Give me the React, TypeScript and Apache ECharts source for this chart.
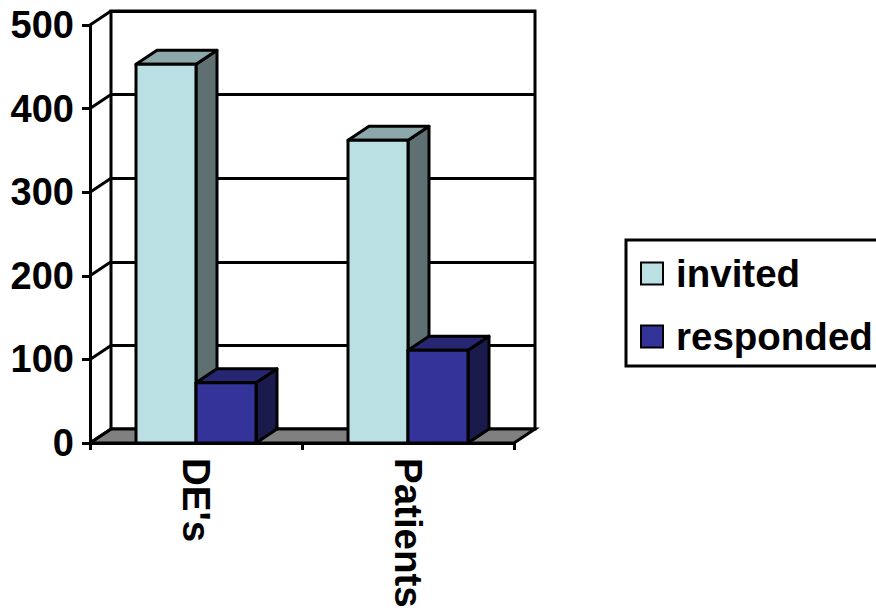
import React, { useEffect, useRef } from "react";
import * as echarts from "echarts";

const categories = ["DE's", "Patients"];
const invited = [453, 362];
const responded = [72, 111];
const yTicks = [0, 100, 200, 300, 400, 500];

const DX = 21;
const DY = -14;
const BAR_W = 60;
const LINE = 3;
const FONT = "Liberation Sans, Arial, sans-serif";
const GRID_W = 424;

function shade3D(front: string, top: string, side: string, dir: number) {
  return (_p: any, api: any) => {
    const cat = api.value(0);
    const [cx, y] = api.coord([cat, api.value(1)]);
    const [, y0] = api.coord([cat, 0]);
    const x0 = dir < 0 ? cx - BAR_W : cx;
    const x1 = x0 + BAR_W;
    const style = (fill: string) => ({ fill, stroke: "#000", lineWidth: LINE, lineJoin: "round" });
    return {
      type: "group",
      children: [
        {
          type: "polygon",
          shape: { points: [[x1, y], [x1 + DX, y + DY], [x1 + DX, y0 + DY], [x1, y0]] },
          style: style(side),
        },
        {
          type: "polygon",
          shape: { points: [[x0, y], [x0 + DX, y + DY], [x1 + DX, y + DY], [x1, y]] },
          style: style(top),
        },
        { type: "rect", shape: { x: x0, y, width: BAR_W, height: y0 - y }, style: style(front) },
      ],
    };
  };
}

export default function App() {
  const ref = useRef<HTMLDivElement>(null);
  useEffect(() => {
    const chart = echarts.init(ref.current!, null, { renderer: "svg" });
    const axisLine = { show: true, lineStyle: { color: "#000", width: LINE } };
    chart.setOption({
      animation: false,
      backgroundColor: "#fff",
      grid: [
        { left: 90, top: 25, width: GRID_W, height: 418, outerBoundsMode: "none" },
        { left: 90 + DX, top: 25 + DY, width: GRID_W, height: 418, outerBoundsMode: "none", show: true, borderColor: "#000", borderWidth: LINE, backgroundColor: "transparent" },
      ],
      xAxis: [
        {
          type: "category",
          gridIndex: 0,
          data: categories,
          axisLine,
          axisTick: { show: true, length: 7, lineStyle: { color: "#000", width: LINE } },
          axisLabel: { rotate: -90, margin: 15, padding: [8, 0, 0, 0], color: "#000", fontFamily: FONT, fontWeight: "bold", fontSize: 38.5 },
        },
        { type: "category", gridIndex: 1, data: categories, show: false },
      ],
      yAxis: [
        {
          type: "value",
          gridIndex: 0,
          min: 0,
          max: 500,
          interval: 100,
          axisLine,
          axisTick: { show: true, length: 8, lineStyle: { color: "#000", width: LINE } },
          splitLine: { show: false },
          axisLabel: { margin: 16, color: "#000", fontFamily: FONT, fontWeight: "bold", fontSize: 38 },
        },
        {
          type: "value",
          gridIndex: 1,
          min: 0,
          max: 500,
          interval: 100,
          axisLine: { show: false },
          axisTick: { show: false },
          axisLabel: { show: false },
          splitLine: { show: true, lineStyle: { color: "#000", width: LINE } },
        },
      ],
      legend: {
        left: 626,
        top: 240,
        orient: "vertical",
        data: ["invited", "responded"],
        icon: "rect",
        itemWidth: 22,
        itemHeight: 22,
        itemGap: 24,
        padding: [14, 6, 10, 14],
        borderColor: "#000",
        borderWidth: 3,
        backgroundColor: "#fff",
        formatter: (name: string) => `{t|${name}}`,
        textStyle: {
          color: "#000",
          rich: {
            t: { color: "#000", fontFamily: FONT, fontWeight: "bold", fontSize: 38.5, padding: [0, 0, 0, 8] },
          },
        },
      },
      series: [
        {
          type: "custom",
          name: "floor",
          xAxisIndex: 0,
          yAxisIndex: 0,
          z: 2,
          data: [[0, 0]],
          renderItem: (_p: any, api: any) => {
            const half = api.size([1, 0])[0] / 2;
            const [a, y] = api.coord([0, 0]);
            const [b] = api.coord([categories.length - 1, 0]);
            const l = a - half;
            const r = b + half;
            return {
              type: "polygon",
              shape: { points: [[l, y], [l + DX, y + DY], [r + DX, y + DY], [r, y]] },
              style: { fill: "#808080", stroke: "#000", lineWidth: LINE },
            };
          },
        },
        {
          type: "custom",
          name: "wall",
          xAxisIndex: 0,
          yAxisIndex: 0,
          z: 3,
          data: yTicks.map((t) => [0, t]),
          renderItem: (_p: any, api: any) => {
            const half = api.size([1, 0])[0] / 2;
            const [a, y] = api.coord([0, api.value(1)]);
            const l = a - half;
            return {
              type: "line",
              shape: { x1: l, y1: y, x2: l + DX, y2: y + DY },
              style: { stroke: "#000", lineWidth: LINE },
            };
          },
        },
        {
          type: "custom",
          name: "invited",
          xAxisIndex: 0,
          yAxisIndex: 0,
          z: 4,
          itemStyle: { color: "#BBE0E3", borderColor: "#000", borderWidth: 3 },
          data: invited.map((v, i) => [i, v]),
          encode: { x: 0, y: 1 },
          renderItem: shade3D("#BBE0E3", "#8CA8AA", "#5E7072", -1),
        },
        {
          type: "custom",
          name: "responded",
          xAxisIndex: 0,
          yAxisIndex: 0,
          z: 5,
          itemStyle: { color: "#333399", borderColor: "#000", borderWidth: 3 },
          data: responded.map((v, i) => [i, v]),
          encode: { x: 0, y: 1 },
          renderItem: shade3D("#333399", "#262673", "#1A1A4D", 1),
        },
      ],
    });
    return () => chart.dispose();
  }, []);
  return <div ref={ref} style={{ position: "absolute", left: 0, top: 0, width: 876, height: 608 }} />;
}
